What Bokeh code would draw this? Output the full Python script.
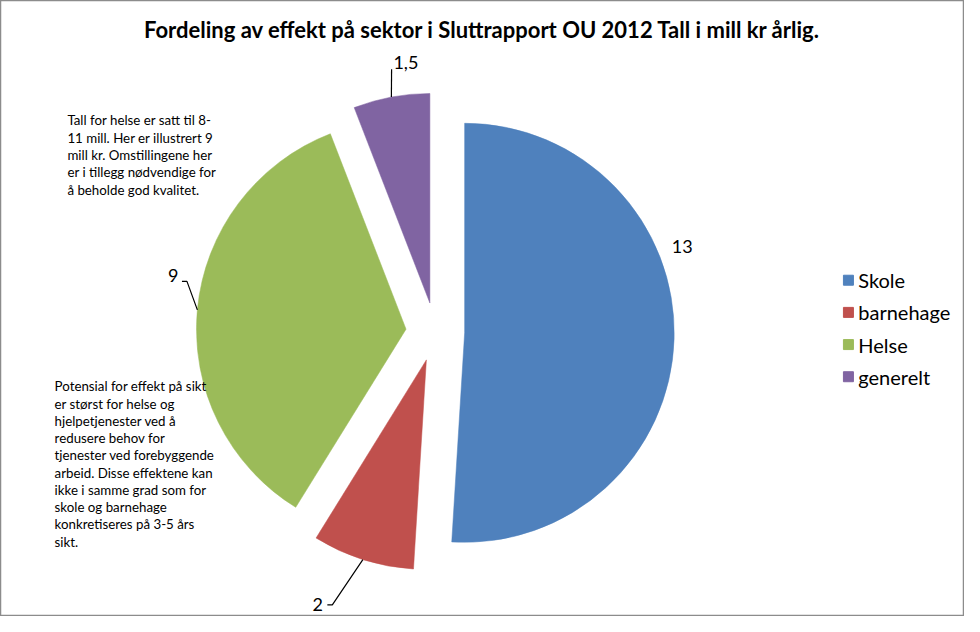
import math
from bokeh.plotting import figure
from bokeh.models import Range1d
from bokeh.core.properties import value
from bokeh.embed import file_html
from bokeh.resources import INLINE

# ---- data ----
categories = ["Skole", "barnehage", "Helse", "generelt"]
values = [13, 2, 9, 1.5]
colors = ["#4F81BD", "#C0504D", "#9BBB59", "#8064A2"]
title = "Fordeling av effekt på sektor i Sluttrapport OU 2012 Tall i mill kr årlig."
note1 = ["Tall for helse er satt til 8-", "11 mill. Her er illustrert 9",
         "mill kr.  Omstillingene her", "er i tillegg nødvendige for",
         "å beholde god kvalitet."]
note2 = ["Potensial for effekt på sikt", "er størst for helse og",
         "hjelpetjenester ved å", "redusere behov for",
         "tjenester ved forebyggende", "arbeid. Disse effektene kan",
         "ikke i samme grad som for", "skole og barnehage",
         "konkretiseres på 3-5 års", "sikt."]

# ---- layout / style ----
W, H = 964, 616
SX, SY = W / 980.0, H / 632.0
S = (SX + SY) / 2
FONT = "Lato"
def px(x): return x * SX
def py(y): return H - y * SY

cx, cy = px(442), py(340)
R = 214 * S
EXPLODE = 30 * S
# label placement (polar, relative to slice apex): angle deg, distance
lab_ang = [21.6, -114.0, 167.0, 95.7]
lab_dist = [239 * S, 273 * S, 244 * S, 247 * S]
# leader line end (polar relative to apex), None = no leader
lead_ang = [None, -111.0, 167.7, 99.3]
lead_dist = [None, 268 * S, 229 * S, 242 * S]
lead_tail = [0, -5, -5, 0]

p = figure(width=W, height=H, x_range=Range1d(0, W), y_range=Range1d(0, H),
           output_backend="svg", toolbar_location=None, min_border=0)
p.axis.visible = False
p.grid.visible = False
p.outline_line_color = "#8c8c8c"
p.outline_line_width = 1.5
p.background_fill_color = "white"
p.border_fill_color = "white"

total = sum(values)
start = 90.0
for i, v in enumerate(values):
    sweep = 360.0 * v / total
    end = start - sweep
    mid = math.radians((start + end) / 2)
    ax = cx + EXPLODE * math.cos(mid)
    ay = cy + EXPLODE * math.sin(mid)
    p.wedge(x=[ax], y=[ay], radius=R, start_angle=[math.radians(start)],
            end_angle=[math.radians(end)], direction="clock",
            fill_color=colors[i], line_color=colors[i], line_width=0.5)
    # label
    la = math.radians(lab_ang[i])
    lx = ax + lab_dist[i] * math.cos(la)
    ly = ay + lab_dist[i] * math.sin(la)
    txt = ("%g" % v).replace(".", ",")
    p.text(x=[lx], y=[ly], text=[txt], text_font=value(FONT),
           text_font_size="18px", text_align="center", text_baseline="middle",
           text_color="black")
    if lead_ang[i] is not None:
        sx = ax + R * math.cos(mid)
        sy = ay + R * math.sin(mid)
        ea = math.radians(lead_ang[i])
        ex = ax + lead_dist[i] * math.cos(ea)
        ey = ay + lead_dist[i] * math.sin(ea)
        xs = [sx, ex]
        ys = [sy, ey]
        if lead_tail[i]:
            xs.append(ex + lead_tail[i])
            ys.append(ey)
        p.line(x=xs, y=ys, line_color="black", line_width=1.2)
    start = end

# title
p.text(x=[px(490)], y=[py(30)], text=[title], text_font=value(FONT),
       text_font_size="22px", text_font_style="bold", text_align="center",
       text_baseline="middle", text_color="black")

# notes
for k, line in enumerate(note1):
    p.text(x=[px(68)], y=[py(123 + 17.8 * k)], text=[line], text_font=value(FONT),
           text_font_size="13.3px", text_align="left", text_baseline="middle",
           text_color="black")
for k, line in enumerate(note2):
    p.text(x=[px(55)], y=[py(396 + 17.7 * k)], text=[line], text_font=value(FONT),
           text_font_size="13.3px", text_align="left", text_baseline="middle",
           text_color="black")

# legend
for k, (c, col) in enumerate(zip(categories, colors)):
    yy = py(287 + 33 * k)
    p.scatter(x=[px(862)], y=[yy], marker="square", size=10,
              fill_color=col, line_color=col)
    p.text(x=[px(872)], y=[yy], text=[c], text_font=value(FONT),
           text_font_size="20px", text_align="left", text_baseline="middle",
           text_color="black")

open("out.html", "w").write(file_html(p, INLINE))
